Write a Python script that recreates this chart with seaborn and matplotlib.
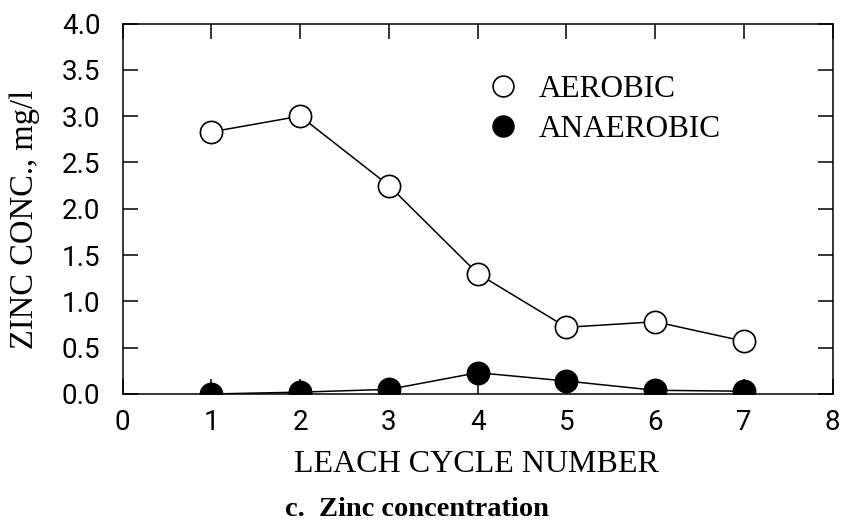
import matplotlib
matplotlib.use("Agg")
import matplotlib.pyplot as plt
from matplotlib.lines import Line2D
import seaborn as sns
import pandas as pd

cycles = [1, 2, 3, 4, 5, 6, 7]
aerobic = [2.83, 3.00, 2.25, 1.30, 0.72, 0.78, 0.57]
anaerobic = [0.00, 0.02, 0.05, 0.23, 0.14, 0.04, 0.03]
x_ticks = [0, 1, 2, 3, 4, 5, 6, 7, 8]
y_ticks = [0.0, 0.5, 1.0, 1.5, 2.0, 2.5, 3.0, 3.5, 4.0]
series_names = ["AEROBIC", "ANAEROBIC"]

sns.set_theme(style="white")
plt.rcParams["font.family"] = ["Liberation Serif", "DejaVu Serif"]

fig = plt.figure(figsize=(8.45, 5.23), dpi=100)
ax = fig.add_axes([122.7 / 845, 1 - 394 / 523, (832.7 - 122.7) / 845, (394 - 23.5) / 523])

df_a = pd.DataFrame({"cycle": cycles, "conc": aerobic})
df_n = pd.DataFrame({"cycle": cycles, "conc": anaerobic})

sns.lineplot(data=df_a, x="cycle", y="conc", ax=ax, color="black", linewidth=1.1,
             marker="o", markersize=16, markerfacecolor="white",
             markeredgecolor="black", markeredgewidth=1.2, legend=False, zorder=3)
sns.lineplot(data=df_n, x="cycle", y="conc", ax=ax, color="black", linewidth=1.1,
             marker="o", markersize=16, markerfacecolor="black",
             markeredgecolor="black", markeredgewidth=1.2, legend=False, zorder=3)

ax.set_xlim(0, 8)
ax.set_ylim(0, 4.0)
ax.set_xticks(x_ticks)
ax.set_yticks(y_ticks)
ax.set_xticklabels([str(t) for t in x_ticks])
ax.set_yticklabels([f"{t:.1f}" for t in y_ticks])

for lab in ax.get_xticklabels() + ax.get_yticklabels():
    lab.set_fontfamily(["Roboto", "DejaVu Sans"])
    lab.set_fontweight("normal")
    lab.set_fontsize(20)
    lab.set_color("black")

ax.tick_params(axis="both", which="major", direction="in", length=11, width=1.1,
               top=True, right=True, bottom=True, left=True, color="black",
               labelcolor="black")
ax.tick_params(axis="x", pad=11)
ax.tick_params(axis="y", pad=16)
for sp in ax.spines.values():
    sp.set_visible(True)
    sp.set_color("black")
    sp.set_linewidth(1.1)

ax.set_xlabel("LEACH CYCLE NUMBER", fontsize=23, color="black")
ax.set_ylabel("ZINC CONC., mg/l", fontsize=23.5, color="black")
ax.xaxis.set_label_coords(0.498, (394 - 464) / 370.5)
ax.yaxis.set_label_coords((25 - 122.7) / 710, (394 - 219) / 370.5)
ax.xaxis.label.set_va("center")
ax.yaxis.label.set_va("center")

handles = [
    Line2D([], [], linestyle="none", marker="o", markersize=15, markerfacecolor="white",
           markeredgecolor="black", markeredgewidth=1.2),
    Line2D([], [], linestyle="none", marker="o", markersize=15, markerfacecolor="black",
           markeredgecolor="black", markeredgewidth=1.2),
]
leg = ax.legend(handles, series_names, loc="upper left",
                bbox_to_anchor=((484 - 122.7) / 710, 1 - (75 - 23.5) / 370.5),
                frameon=False, fontsize=22.5, handletextpad=0.55, labelspacing=0.35,
                borderaxespad=0, handlelength=1.2, borderpad=0)
for t in leg.get_texts():
    t.set_color("black")

fig.text(417 / 845, 1 - 509 / 523, "c.  Zinc concentration", ha="center", va="center",
         fontsize=20.5, fontweight="bold", color="black")

fig.savefig("out.png", dpi=100, facecolor="white")
